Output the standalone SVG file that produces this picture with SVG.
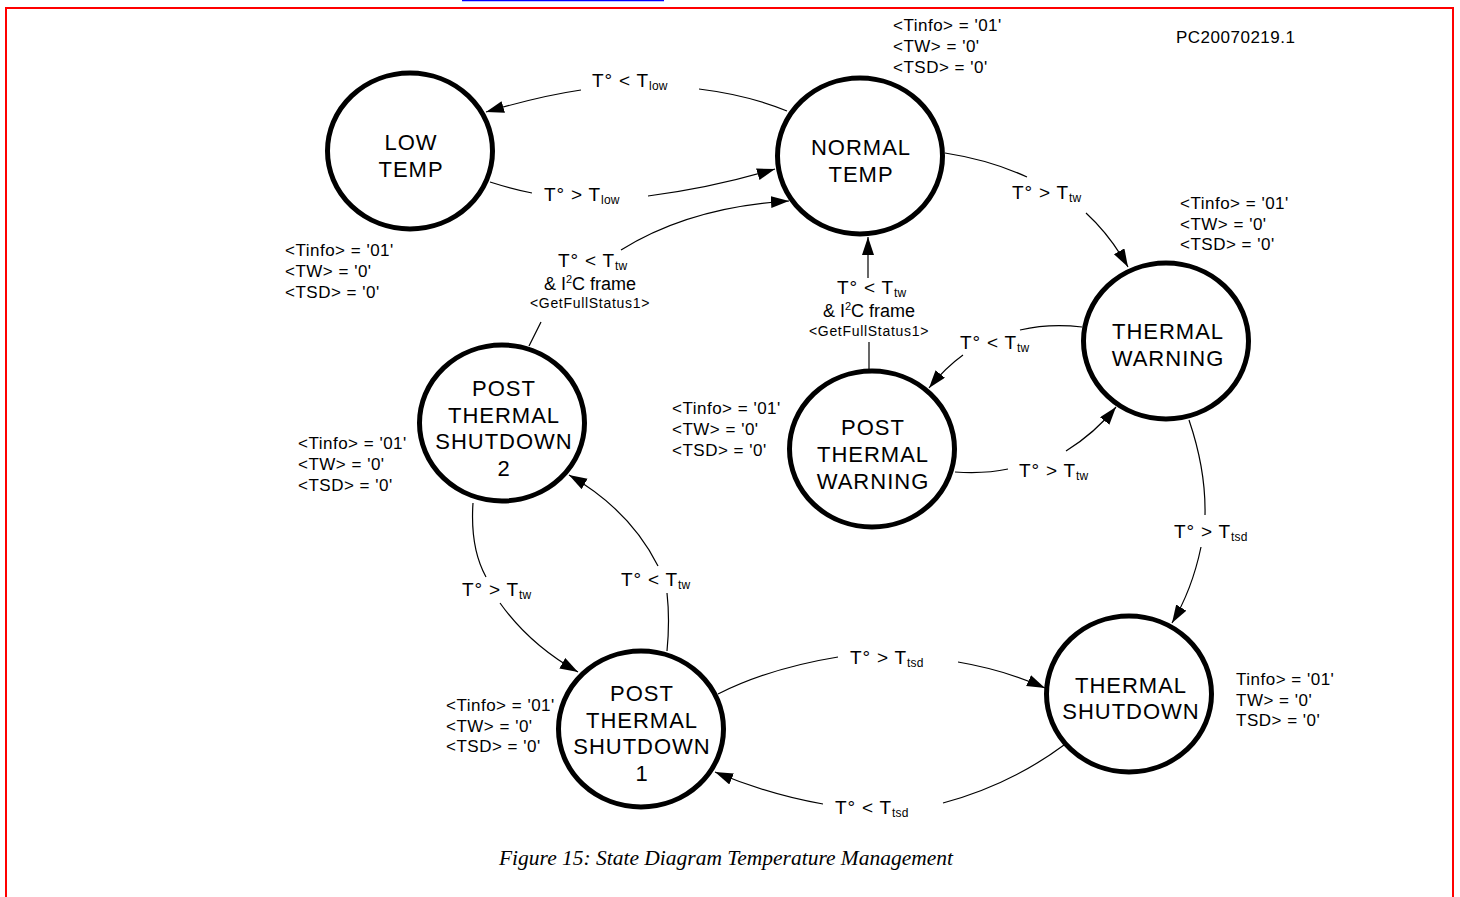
<svg xmlns="http://www.w3.org/2000/svg" width="1460" height="897" viewBox="0 0 1460 897">
<style>
.node{fill:#fff;stroke:#000;stroke-width:5}
.nl{font-family:"Liberation Sans",Arial,sans-serif;font-size:22px;letter-spacing:1px;text-anchor:middle;fill:#000}
.info{font-family:"Liberation Sans",Arial,sans-serif;font-size:17px;letter-spacing:0.5px;fill:#000}
.lbl{font-family:"Liberation Sans",Arial,sans-serif;font-size:19px;letter-spacing:0.8px;fill:#000}
.sub{font-size:12px;letter-spacing:0.3px}
.i2c{font-family:"Liberation Sans",Arial,sans-serif;font-size:18px;fill:#000;text-anchor:middle}
.gfs{font-family:"Liberation Sans",Arial,sans-serif;font-size:14px;letter-spacing:0.7px;fill:#000;text-anchor:middle}
.edge{fill:none;stroke:#000;stroke-width:1.2}
.arr{marker-end:url(#ah)}
</style>
<defs>
<marker id="ah" markerUnits="userSpaceOnUse" markerWidth="20" markerHeight="14" refX="18" refY="6" orient="auto">
<path d="M0,0 L18,6 L0,12 z" fill="#000"/>
</marker>
</defs>
<rect width="1460" height="897" fill="#fff"/>
<line x1="462" y1="0.5" x2="664" y2="0.5" stroke="#00f" stroke-width="1.5"/>
<rect x="6" y="8" width="1447" height="920" fill="none" stroke="#f00" stroke-width="2"/>

<g id="connectors">
<path class="edge" d="M787,111 Q748,95 699,89"/>
<path class="edge arr" d="M581,90 Q540,96 486,112"/>
<path class="edge" d="M490,182 Q512,189 532,193"/>
<path class="edge arr" d="M648,196 Q712,188 775,169"/>
<path class="edge" d="M529,346 L541,322"/>
<path class="edge arr" d="M621,250 Q690,207 789,201"/>
<path class="edge" d="M945,153 Q990,160 1027,177"/>
<path class="edge arr" d="M1086,213 Q1110,235 1128,267"/>
<path class="edge" d="M1082,327 Q1050,323 1020,330"/>
<path class="edge arr" d="M963,355 Q945,368 929,388"/>
<path class="edge" d="M955,472 Q985,474 1008,469"/>
<path class="edge arr" d="M1066,451 Q1095,433 1116,407"/>
<path class="edge" d="M1189,420 Q1206,470 1205,515"/>
<path class="edge arr" d="M1201,547 Q1192,590 1172,623"/>
<path class="edge" d="M718,694 Q770,668 838,657"/>
<path class="edge arr" d="M958,662 Q1005,670 1045,688"/>
<path class="edge" d="M1064,745 Q1010,785 943,803"/>
<path class="edge arr" d="M823,804 Q770,795 715,772"/>
<path class="edge" d="M473,503 Q470,548 486,577"/>
<path class="edge arr" d="M500,603 Q530,645 578,672"/>
<path class="edge" d="M667,651 Q670,620 667,593"/>
<path class="edge arr" d="M658,566 Q630,510 569,475"/>
<path class="edge" d="M869,369 L869,342"/>
<path class="edge arr" d="M868,278 L868,237"/>

<text class="lbl" x="592" y="87">T° &lt; T<tspan class="sub" dy="3">low</tspan></text>
<text class="lbl" x="544" y="201">T° &gt; T<tspan class="sub" dy="3">low</tspan></text>
<text class="lbl" x="558" y="267">T° &lt; T<tspan class="sub" dy="3">tw</tspan></text>
<text class="i2c" x="590" y="290">&amp; I<tspan font-size="11" dy="-7">2</tspan><tspan dy="7">C frame</tspan></text>
<text class="gfs" x="590" y="308">&lt;GetFullStatus1&gt;</text>
<text class="lbl" x="1012" y="199">T° &gt; T<tspan class="sub" dy="3">tw</tspan></text>
<text class="lbl" x="837" y="294">T° &lt; T<tspan class="sub" dy="3">tw</tspan></text>
<text class="i2c" x="869" y="317">&amp; I<tspan font-size="11" dy="-7">2</tspan><tspan dy="7">C frame</tspan></text>
<text class="gfs" x="869" y="336">&lt;GetFullStatus1&gt;</text>
<text class="lbl" x="960" y="349">T° &lt; T<tspan class="sub" dy="3">tw</tspan></text>
<text class="lbl" x="1019" y="477">T° &gt; T<tspan class="sub" dy="3">tw</tspan></text>
<text class="lbl" x="1174" y="538">T° &gt; T<tspan class="sub" dy="3">tsd</tspan></text>
<text class="lbl" x="462" y="596">T° &gt; T<tspan class="sub" dy="3">tw</tspan></text>
<text class="lbl" x="621" y="586">T° &lt; T<tspan class="sub" dy="3">tw</tspan></text>
<text class="lbl" x="850" y="664">T° &gt; T<tspan class="sub" dy="3">tsd</tspan></text>
<text class="lbl" x="835" y="814">T° &lt; T<tspan class="sub" dy="3">tsd</tspan></text>
</g>

<g id="low-temp">
<ellipse class="node" cx="410" cy="151" rx="82.5" ry="78"/>
<text class="nl" x="411" y="150">LOW</text>
<text class="nl" x="411" y="177">TEMP</text>
<text class="info" x="285" y="256">&lt;Tinfo&gt; = '01'</text>
<text class="info" x="285" y="277">&lt;TW&gt; = '0'</text>
<text class="info" x="285" y="298">&lt;TSD&gt; = '0'</text>
</g>

<g id="normal-temp">
<ellipse class="node" cx="860" cy="156" rx="82.5" ry="78"/>
<text class="nl" x="861" y="155">NORMAL</text>
<text class="nl" x="861" y="182">TEMP</text>
<text class="info" x="893" y="31">&lt;Tinfo&gt; = '01'</text>
<text class="info" x="893" y="52">&lt;TW&gt; = '0'</text>
<text class="info" x="893" y="73">&lt;TSD&gt; = '0'</text>
</g>

<g id="thermal-warning">
<ellipse class="node" cx="1166" cy="341" rx="82.5" ry="78"/>
<text class="nl" x="1168" y="339">THERMAL</text>
<text class="nl" x="1168" y="366">WARNING</text>
<text class="info" x="1180" y="209">&lt;Tinfo&gt; = '01'</text>
<text class="info" x="1180" y="230">&lt;TW&gt; = '0'</text>
<text class="info" x="1180" y="250">&lt;TSD&gt; = '0'</text>
</g>

<g id="post-thermal-warning">
<ellipse class="node" cx="872" cy="449" rx="82.5" ry="78"/>
<text class="nl" x="873" y="435">POST</text>
<text class="nl" x="873" y="462">THERMAL</text>
<text class="nl" x="873" y="489">WARNING</text>
<text class="info" x="672" y="414">&lt;Tinfo&gt; = '01'</text>
<text class="info" x="672" y="435">&lt;TW&gt; = '0'</text>
<text class="info" x="672" y="456">&lt;TSD&gt; = '0'</text>
</g>

<g id="post-thermal-shutdown-2">
<ellipse class="node" cx="502" cy="423" rx="82.5" ry="78"/>
<text class="nl" x="504" y="396">POST</text>
<text class="nl" x="504" y="423">THERMAL</text>
<text class="nl" x="504" y="449">SHUTDOWN</text>
<text class="nl" x="504" y="476">2</text>
<text class="info" x="298" y="449">&lt;Tinfo&gt; = '01'</text>
<text class="info" x="298" y="470">&lt;TW&gt; = '0'</text>
<text class="info" x="298" y="491">&lt;TSD&gt; = '0'</text>
</g>

<g id="post-thermal-shutdown-1">
<text class="info" x="446" y="711">&lt;Tinfo&gt; = '01'</text>
<text class="info" x="446" y="732">&lt;TW&gt; = '0'</text>
<text class="info" x="446" y="752">&lt;TSD&gt; = '0'</text>
<ellipse class="node" cx="641" cy="729" rx="82.5" ry="78"/>
<text class="nl" x="642" y="701">POST</text>
<text class="nl" x="642" y="728">THERMAL</text>
<text class="nl" x="642" y="754">SHUTDOWN</text>
<text class="nl" x="642" y="781">1</text>
</g>

<g id="thermal-shutdown">
<ellipse class="node" cx="1129" cy="694" rx="82.5" ry="78"/>
<text class="nl" x="1131" y="693">THERMAL</text>
<text class="nl" x="1131" y="719">SHUTDOWN</text>
<text class="info" x="1236" y="685">Tinfo&gt; = '01'</text>
<text class="info" x="1236" y="706">TW&gt; = '0'</text>
<text class="info" x="1236" y="726">TSD&gt; = '0'</text>
</g>

<text class="info" x="1176" y="43">PC20070219.1</text>
<text x="499" y="865" font-family="'Liberation Serif','Times New Roman',serif" font-style="italic" font-size="20" textLength="454" lengthAdjust="spacingAndGlyphs">Figure 15: State Diagram Temperature Management</text>
</svg>
